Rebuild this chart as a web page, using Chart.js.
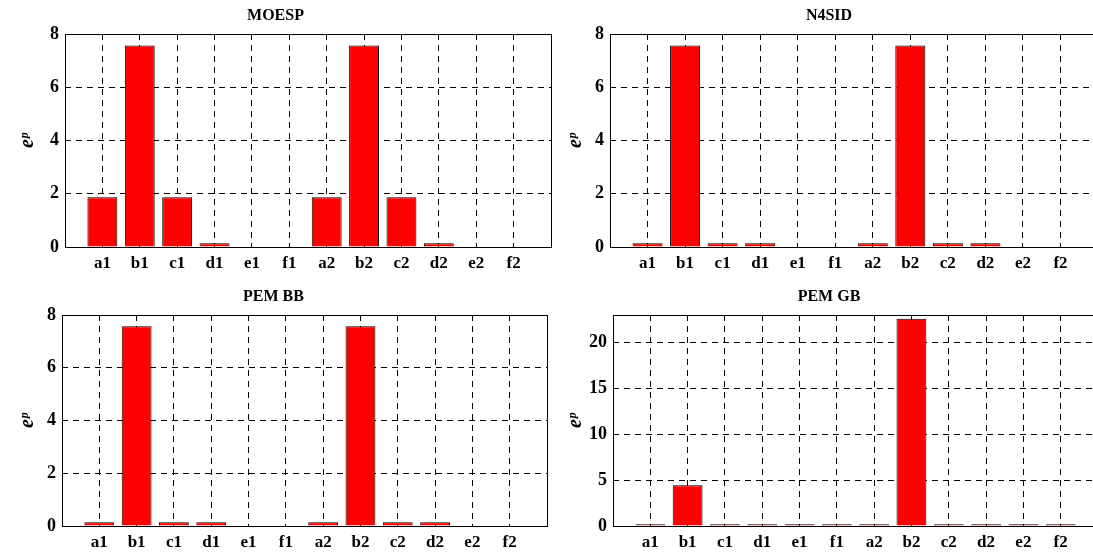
<!DOCTYPE html>
<html>
<head>
<meta charset="utf-8">
<script src="https://cdn.jsdelivr.net/npm/chart.js@4/dist/chart.umd.min.js"></script>
<style>
    html, body { margin: 0; padding: 0; background: #fff; overflow: hidden; width: 1093px; height: 553px; }
    canvas { position: absolute; }
</style>
</head>
<body>
<canvas id="moesp" width="553" height="277" style="left:0px;top:0px"></canvas>
<canvas id="n4sid" width="540" height="277" style="left:560px;top:0px"></canvas>
<canvas id="pembb" width="549" height="276" style="left:0px;top:280px"></canvas>
<canvas id="pemgb" width="540" height="276" style="left:560px;top:280px"></canvas>
<script>
// bar categories
const categories = ['a1', 'b1', 'c1', 'd1', 'e1', 'f1', 'a2', 'b2', 'c2', 'd2', 'e2', 'f2'];

// e^p values for each method
const moespValues = [1.87, 7.57, 1.87, 0.14, 0, 0, 1.87, 7.57, 1.87, 0.14, 0, 0];
const n4sidValues = [0.14, 7.57, 0.14, 0.14, 0, 0, 0.14, 7.57, 0.14, 0.14, 0, 0];
const pemBbValues = [0.14, 7.57, 0.14, 0.14, 0, 0, 0.14, 7.57, 0.14, 0.14, 0, 0];
const pemGbValues = [0.18, 4.45, 0.18, 0.18, 0.18, 0.18, 0.18, 22.6, 0.18, 0.18, 0.18, 0.18];

const serif = "'Liberation Serif', 'Times New Roman', serif";

// box around the plot area, like matlab's axes
const boxPlugin = {
    id: 'box',
    afterDraw(chart) {
        const a = chart.chartArea;
        const ctx = chart.ctx;
        ctx.save();
        ctx.strokeStyle = '#000';
        ctx.lineWidth = 1;
        ctx.strokeRect(Math.round(a.left) + 0.5, Math.round(a.top) + 0.5,
            Math.round(a.right - a.left), Math.round(a.bottom - a.top));
        ctx.restore();
    }
};

function makePanel(id, title, values, yMax, yStep, yWidth, titlePad, titleX) {
    const ctx = document.getElementById(id).getContext('2d');
    const points = values.map((v, i) => ({ x: i + 1, y: v }));

    new Chart(ctx, {
        type: 'bar',
        data: {
            datasets: [{
                data: points,
                backgroundColor: '#ff0000',
                borderColor: '#000',
                borderWidth: 1,
                barPercentage: 1,
                categoryPercentage: 0.8
            }]
        },
        options: {
            responsive: false,
            animation: false,
            devicePixelRatio: 1,
            layout: { padding: { right: 2, left: 0, top: 0, bottom: 0 } },
            plugins: {
                legend: { display: false },
                tooltip: { enabled: false },
                title: {
                    display: true,
                    text: title,
                    color: '#000',
                    font: { family: serif, size: 16, weight: 'bold', lineHeight: 1 },
                    padding: titlePad
                }
            },
            scales: {
                x: {
                    type: 'linear',
                    offset: false,
                    min: 0,
                    max: categories.length + 1,
                    afterFit: s => { s.height = 30; },
                    afterBuildTicks: s => {
                        s.ticks = categories.map((c, i) => ({ value: i + 1 }));
                    },
                    grid: { color: '#000', lineWidth: 1, drawTicks: false, offset: false },
                    border: { display: false, dash: [6, 5] },
                    ticks: {
                        color: '#000',
                        padding: 6,
                        autoSkip: false,
                        maxRotation: 0,
                        font: { family: serif, size: 17, weight: 'bold' },
                        callback: v => categories[v - 1] || ''
                    }
                },
                y: {
                    min: 0,
                    max: yMax,
                    afterFit: s => { s.width = yWidth; },
                    grid: { color: '#000', lineWidth: 1, drawTicks: false },
                    border: { display: false, dash: [6, 5] },
                    ticks: {
                        color: '#000',
                        stepSize: yStep,
                        includeBounds: false,
                        padding: 6,
                        font: { family: serif, size: 18, weight: 'bold' }
                    },
                    title: {
                        display: true,
                        text: 'e\u1D56',
                        color: '#000',
                        font: { family: serif, size: 20, weight: 'bold', style: 'italic', lineHeight: 1 },
                        padding: { top: titleX, bottom: 0 }
                    }
                }
            }
        },
        plugins: [boxPlugin]
    });
}

makePanel('moesp', 'MOESP', moespValues, 8, 2, 65, { top: 8, bottom: 10 }, 18);
makePanel('n4sid', 'N4SID', n4sidValues, 8, 2, 50, { top: 8, bottom: 10 }, 6);
makePanel('pembb', 'PEM BB', pemBbValues, 8, 2, 62, { top: 9, bottom: 10 }, 18);
makePanel('pemgb', 'PEM GB', pemGbValues, 23, 5, 53, { top: 9, bottom: 10 }, 6);
</script>
</body>
</html>
